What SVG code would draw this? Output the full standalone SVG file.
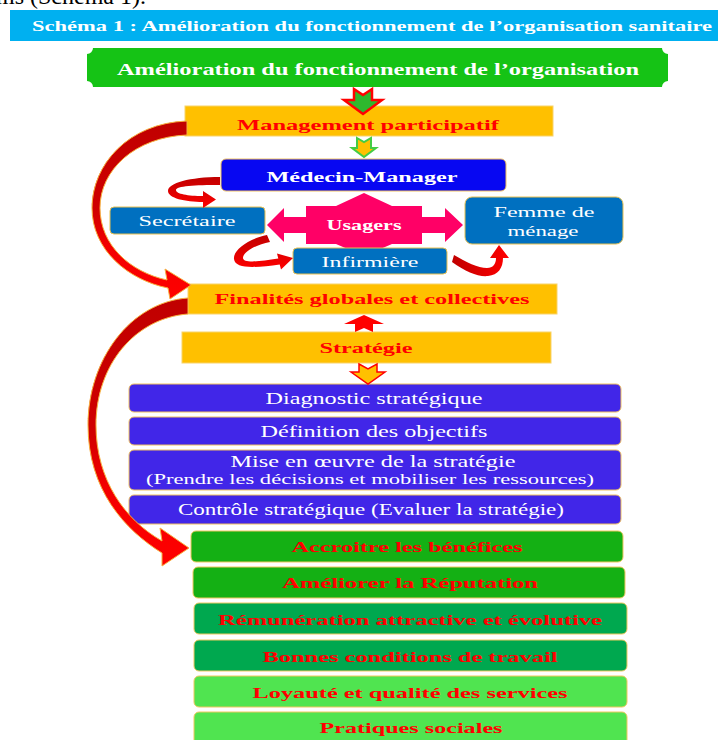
<svg xmlns="http://www.w3.org/2000/svg" width="724" height="740" viewBox="0 0 724 740">
<defs>
<linearGradient id="gV" x1="0" y1="0" x2="0" y2="1"><stop offset="0" stop-color="#C00000"/><stop offset="0.5" stop-color="#D00000"/><stop offset="0.7" stop-color="#F20000"/><stop offset="1" stop-color="#FF0000"/></linearGradient>
<linearGradient id="gS" x1="0" y1="0" x2="0" y2="1"><stop offset="0" stop-color="#C00000"/><stop offset="1" stop-color="#FF0000"/></linearGradient>
<linearGradient id="gH" x1="0" y1="0" x2="1" y2="0"><stop offset="0" stop-color="#C00000"/><stop offset="1" stop-color="#FF0000"/></linearGradient>
<style>
.t{font-family:"Liberation Serif","Times New Roman",serif;text-anchor:middle}
.b{font-weight:bold}
.w{fill:#FFFFFF}
.r{fill:#FF0000}
.or{fill:#FFC000;stroke:#F8D36A;stroke-width:1}
.blue{fill:#0707F2;stroke:#F0C060;stroke-width:1}
.lb{fill:#0070C0;stroke:#E8C050;stroke-width:1}
.pu{fill:#4126E8;stroke:#F0C060;stroke-width:1}
.g1{fill:#14B014;stroke:#F0C860;stroke-width:1}
.g2{fill:#00A84F;stroke:#F0C860;stroke-width:1}
.g3{fill:#50E450;stroke:#F0C860;stroke-width:1}
.arc{stroke:#F6B040;stroke-width:1}
</style>
</defs>
<text x="-4" y="4" font-family="Liberation Serif, serif" font-size="24" fill="#000">ms (Schéma 1).</text>
<g id="title">
<rect x="10" y="10" width="708" height="31" fill="#00B0F0"/>
<text class="t b w" x="372" y="31" font-size="14" textLength="680" lengthAdjust="spacingAndGlyphs">Schéma 1 : Amélioration du fonctionnement de l’organisation sanitaire</text>
</g>
<g id="banner">
<path d="M93,48 H662 A6,6 0 0 0 668,54 V81 A6,6 0 0 0 662,87 H93 A6,6 0 0 0 87,81 V54 A6,6 0 0 0 93,48 Z" fill="#15C315"/>
<text class="t b w" x="378" y="75" font-size="17" textLength="522" lengthAdjust="spacingAndGlyphs">Amélioration du fonctionnement de l’organisation</text>
</g>
<g id="management">
<rect class="or" x="185" y="106" width="368" height="30"/>
<text class="t b r" x="368" y="130" font-size="15" textLength="262" lengthAdjust="spacingAndGlyphs">Management participatif</text>
</g>
<g id="medecin">
<rect class="blue" x="221" y="159" width="285" height="32" rx="5"/>
<text class="t b w" x="362" y="182" font-size="15" textLength="191" lengthAdjust="spacingAndGlyphs">Médecin-Manager</text>
</g>
<g id="usagers">
<path d="M267,225 L284,208 L284,217 L306,217 L306,206 L336,206 L364,193 L392,206 L422,206 L422,217 L445,217 L445,208 L463,225 L445,242 L445,233 L422,233 L422,244 L392,244 L364,256 L336,244 L306,244 L306,233 L284,233 L284,242 Z" fill="#FF0066"/>
<text class="t b w" x="364" y="230" font-size="14" textLength="75" lengthAdjust="spacingAndGlyphs">Usagers</text>
</g>
<g id="secretaire">
<rect class="lb" x="110" y="207" width="155" height="27" rx="4"/>
<text class="t w" x="187" y="226" font-size="15" textLength="97" lengthAdjust="spacingAndGlyphs">Secrétaire</text>
</g>
<g id="femme">
<rect class="lb" x="465" y="197" width="158" height="47" rx="7"/>
<text class="t w" x="544" y="217" font-size="15" textLength="101" lengthAdjust="spacingAndGlyphs">Femme de</text>
<text class="t w" x="543" y="236" font-size="15" textLength="71" lengthAdjust="spacingAndGlyphs">ménage</text>
</g>
<g id="infirmiere">
<rect class="lb" x="293" y="248" width="154" height="26" rx="4"/>
<text class="t w" x="370" y="267" font-size="15" textLength="97" lengthAdjust="spacingAndGlyphs">Infirmière</text>
</g>
<g id="finalites">
<rect class="or" x="188" y="284" width="369" height="30"/>
<text class="t b r" x="372" y="304" font-size="15" textLength="315" lengthAdjust="spacingAndGlyphs">Finalités globales et collectives</text>
</g>
<g id="strategie">
<rect class="or" x="182" y="332" width="369" height="31"/>
<text class="t b r" x="366" y="353" font-size="15" textLength="93" lengthAdjust="spacingAndGlyphs">Stratégie</text>
</g>
<g id="diagnostic">
<rect class="pu" x="129" y="384" width="492" height="28" rx="5"/>
<text class="t w" x="374" y="404" font-size="16" textLength="217" lengthAdjust="spacingAndGlyphs">Diagnostic stratégique</text>
</g>
<g id="definition">
<rect class="pu" x="129" y="417" width="492" height="28" rx="5"/>
<text class="t w" x="374" y="437" font-size="16" textLength="227" lengthAdjust="spacingAndGlyphs">Définition des objectifs</text>
</g>
<g id="mise">
<rect class="pu" x="129" y="450" width="492" height="40" rx="5"/>
<text class="t w" x="373" y="467" font-size="16" textLength="285" lengthAdjust="spacingAndGlyphs">Mise en œuvre de la stratégie</text>
<text class="t w" x="370" y="484" font-size="14" textLength="448" lengthAdjust="spacingAndGlyphs">(Prendre les décisions et mobiliser les ressources)</text>
</g>
<g id="controle">
<rect class="pu" x="129" y="495" width="492" height="29" rx="5"/>
<text class="t w" x="371" y="515" font-size="16" textLength="386" lengthAdjust="spacingAndGlyphs">Contrôle stratégique (Evaluer la stratégie)</text>
</g>
<g id="accroitre">
<rect class="g1" x="191" y="531" width="432" height="31" rx="5"/>
<text class="t b r" x="407" y="552" font-size="15" textLength="231" lengthAdjust="spacingAndGlyphs">Accroitre les bénéfices</text>
</g>
<g id="reputation">
<rect class="g1" x="193" y="567" width="432" height="31" rx="5"/>
<text class="t b r" x="410" y="588" font-size="15" textLength="256" lengthAdjust="spacingAndGlyphs">Améliorer la Réputation</text>
</g>
<g id="remuneration">
<rect class="g2" x="194" y="603" width="433" height="31" rx="5"/>
<text class="t b r" x="410" y="625" font-size="15" textLength="384" lengthAdjust="spacingAndGlyphs">Rémunération attractive et évolutive</text>
</g>
<g id="conditions">
<rect class="g2" x="194" y="640" width="433" height="31" rx="5"/>
<text class="t b r" x="410" y="662" font-size="15" textLength="295" lengthAdjust="spacingAndGlyphs">Bonnes conditions de travail</text>
</g>
<g id="loyaute">
<rect class="g3" x="194" y="676" width="433" height="31" rx="5"/>
<text class="t b r" x="410" y="698" font-size="15" textLength="315" lengthAdjust="spacingAndGlyphs">Loyauté et qualité des services</text>
</g>
<g id="pratiques">
<rect class="g3" x="194" y="712" width="433" height="34" rx="5"/>
<text class="t b r" x="411" y="733" font-size="15" textLength="183" lengthAdjust="spacingAndGlyphs">Pratiques sociales</text>
</g>
<g id="connectors">
<polygon points="354,89 363,95 372,89 372,100 382,100 363,114 344,100 354,100" fill="#2EB82E" stroke="#FF0000" stroke-width="2.5" stroke-linejoin="miter"/>
<polygon points="357,138 364,142 371,138 371,148 376,148 364,157 352,148 357,148" fill="#FFC000" stroke="#44CC44" stroke-width="2"/>
<polygon points="364,315 384,324 373,324 373,332 364,328 355,332 355,324 344,324" fill="#FF0000"/>
<polygon points="359,364 368,369 377,364 377,372 385,372 368,384 351,372 359,372" fill="#FFC000" stroke="#FF0000" stroke-width="1.5"/>
<path class="arc" d="M187,121 C128,123 92,165 92,208 C92,250 128,280 168,288 L170,299 L191,285 L165,269 L167,280 C130,272 100,245 100,208 C100,170 135,137 187,135 Z" fill="url(#gV)"/>
<path class="arc" d="M188,298 C130,302 88,360 88,425 C88,490 125,530 162,553 L162,566 L189,548 L160,528 L162,541 C125,520 96,480 96,425 C96,365 135,318 188,314 Z" fill="url(#gV)"/>
<path d="M220,177 C190,177 168,183 168,191 C168,198 185,202 203,202 L203,208 L216,199.5 L203,191 L203,196 C188,196 176,194 176,190 C176,186 195,185 220,185 Z" fill="url(#gS)"/>
<path d="M267,235 C248,239 233,250 234,259 C235,269 255,268 279.7,264.4 L281,269.5 L293,258 L277,253.5 L278.3,258.6 C258,262 243,263 243,258 C243,252 255,245 270,242 Z" fill="url(#gS)"/>
<path d="M452,262 C466,272 478,277 488,276 C498,275 503,268 503,258 L509,258 L499,245 L490,258 L496,258 C496,264 493,268 487,268 C478,268 466,262 454,255 Z" fill="url(#gH)"/>
</g>
</svg>
